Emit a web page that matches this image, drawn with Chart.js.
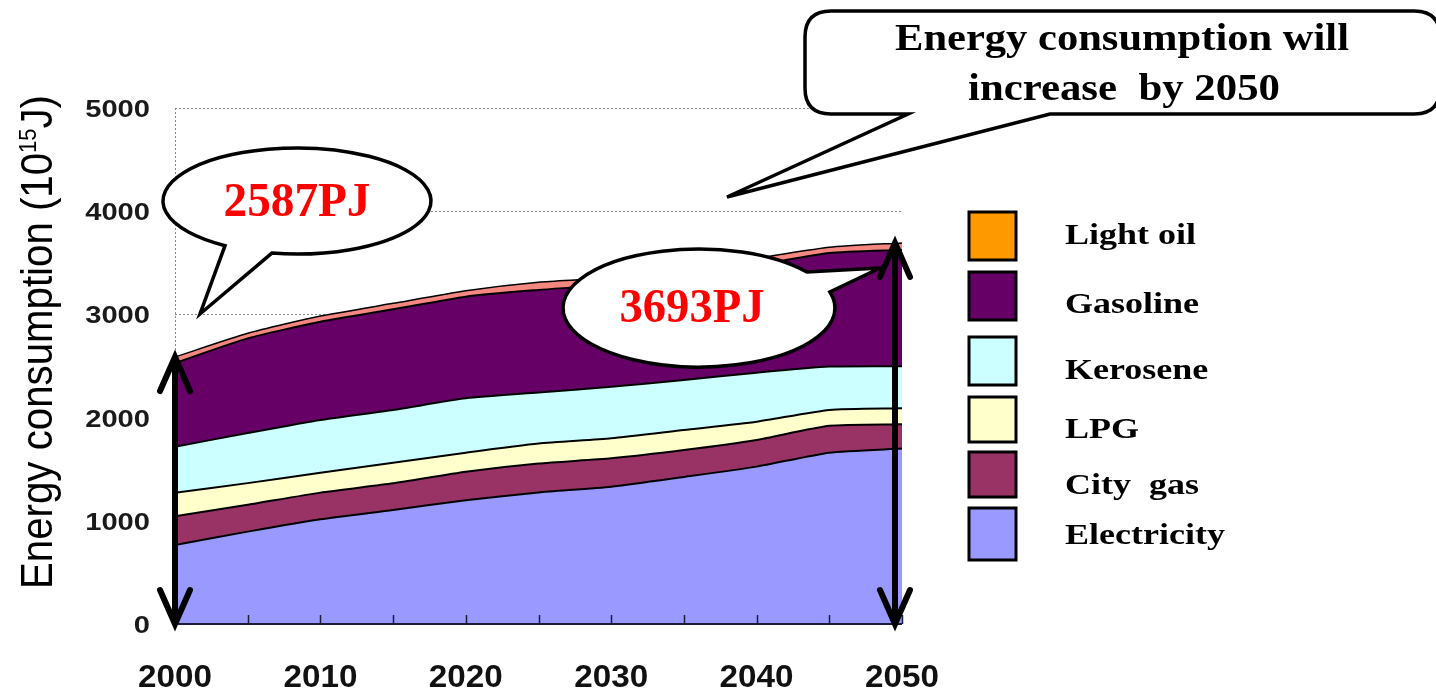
<!DOCTYPE html>
<html>
<head>
<meta charset="utf-8">
<title>Energy consumption by source, 2000-2050</title>
<script src="https://cdn.jsdelivr.net/npm/chart.js@4/dist/chart.umd.min.js"></script>
<style>
  html, body { margin: 0; padding: 0; background: #ffffff; overflow: hidden; }
  #wrap { position: relative; width: 1436px; height: 693px; }
</style>
</head>
<body>
<div id="wrap"><canvas id="c" width="1436" height="693"></canvas></div>
<script>
// ---- data (10^15 J per year, stacked from the bottom) ----
const years = ['2000','2005','2010','2015','2020','2025','2030','2035','2040','2045','2050'];
const yearTickLabels = ['2000','2010','2020','2030','2040','2050'];
const valueTicks = [0, 1000, 2000, 3000, 4000, 5000];

const electricity = [765, 895, 1015, 1105, 1200, 1275, 1330, 1425, 1525, 1660, 1700];
const cityGas     = [280, 260, 258, 258, 275, 280, 275, 260, 258, 260, 235];
const lpg         = [227, 210, 193, 200, 185, 193, 194, 195, 177, 154, 155];
const kerosene    = [446, 485, 511, 511, 527, 495, 500, 484, 475, 420, 408];
const gasoline    = [811, 918, 952, 975, 985, 994, 991, 1031, 1045, 1101, 1127];
const lightOil    = [58, 49, 55, 58, 58, 75, 65, 65, 65, 55, 68];

const seriesNames  = ['Electricity', 'City  gas', 'LPG', 'Kerosene', 'Gasoline', 'Light oil'];
const seriesFill   = ['#9999ff', '#993366', '#ffffcc', '#ccffff', '#660066', '#f4877f'];
const legendFill   = ['#9999ff', '#993366', '#ffffcc', '#ccffff', '#660066', '#ff9900'];
const seriesValues = [electricity, cityGas, lpg, kerosene, gasoline, lightOil];

const totalLabels = ['2587PJ', '3693PJ'];
const headline = ['Energy consumption will', 'increase  by 2050'];

// totals at a given year index
const totalAt = i => seriesValues.reduce((s, arr) => s + arr[i], 0);

// ---- helpers ----
function fitText(ctx, str, x, y, font, width, align, color) {
  ctx.save();
  ctx.font = font;
  const w = ctx.measureText(str).width;
  const s = width ? width / w : 1;
  ctx.translate(x, y);
  ctx.scale(s, 1);
  ctx.textAlign = align || 'center';
  ctx.textBaseline = 'alphabetic';
  ctx.fillStyle = color || '#000';
  ctx.fillText(str, 0, 0);
  ctx.restore();
}

function stretchText(ctx, str, x, y, font, sx, align, color) {
  ctx.save();
  ctx.font = font;
  ctx.translate(x, y);
  ctx.scale(sx, 1);
  ctx.textAlign = align || 'left';
  ctx.textBaseline = 'alphabetic';
  ctx.fillStyle = color || '#000';
  ctx.fillText(str, 0, 0);
  ctx.restore();
}

const rad = d => d * Math.PI / 180;

// speech bubble: ellipse with a pointed tail between two parametric angles
function ellipseBubble(ctx, cx, cy, rx, ry, a1, a2, tip) {
  ctx.save();
  ctx.beginPath();
  ctx.ellipse(cx, cy, rx, ry, 0, rad(a2), rad(a1 + 360));
  ctx.lineTo(tip[0], tip[1]);
  ctx.closePath();
  ctx.fillStyle = '#fff';
  ctx.fill();
  ctx.lineWidth = 3.5;
  ctx.strokeStyle = '#000';
  ctx.lineJoin = 'miter';
  ctx.stroke();
  ctx.restore();
}

// rounded box with a pointed tail leaving its bottom edge
function boxBubble(ctx, L, T, R, B, r, t1, t2, tip) {
  ctx.save();
  ctx.beginPath();
  ctx.moveTo(L + r, T);
  ctx.lineTo(R - r, T);
  ctx.quadraticCurveTo(R, T, R, T + r);
  ctx.lineTo(R, B - r);
  ctx.quadraticCurveTo(R, B, R - r, B);
  ctx.lineTo(t2, B);
  ctx.lineTo(tip[0], tip[1]);
  ctx.lineTo(t1, B);
  ctx.lineTo(L + r, B);
  ctx.quadraticCurveTo(L, B, L, B - r);
  ctx.lineTo(L, T + r);
  ctx.quadraticCurveTo(L, T, L + r, T);
  ctx.closePath();
  ctx.fillStyle = '#fff';
  ctx.fill();
  ctx.lineWidth = 3.5;
  ctx.strokeStyle = '#000';
  ctx.stroke();
  ctx.restore();
}

function doubleArrow(ctx, px, yTop, yBot) {
  ctx.save();
  ctx.strokeStyle = '#000';
  ctx.lineWidth = 6;
  ctx.lineCap = 'butt';
  ctx.beginPath();
  ctx.moveTo(px, yTop + 3);
  ctx.lineTo(px, yBot - 3);
  ctx.stroke();
  ctx.lineCap = 'round';
  ctx.lineJoin = 'miter';
  ctx.beginPath();
  ctx.moveTo(px - 15, yTop + 34);
  ctx.lineTo(px, yTop);
  ctx.lineTo(px + 15, yTop + 34);
  ctx.moveTo(px - 15, yBot - 34);
  ctx.lineTo(px, yBot);
  ctx.lineTo(px + 15, yBot - 34);
  ctx.stroke();
  ctx.restore();
}

// ---- decorations drawn around the chart ----
const decor = {
  id: 'decor',
  beforeDatasetsDraw(chart) {
    const { ctx, chartArea: a } = chart;
    ctx.save();
    ctx.strokeStyle = '#8a8a8a';
    ctx.lineWidth = 1;
    ctx.setLineDash([2, 2]);
    ctx.beginPath();
    ctx.moveTo(a.left + 0.5, a.top);
    ctx.lineTo(a.left + 0.5, a.bottom);
    ctx.stroke();
    ctx.restore();
  },
  afterDatasetsDraw(chart) {
    const { ctx, chartArea: a, scales: { x, y } } = chart;
    const y0 = y.getPixelForValue(0);
    ctx.save();
    ctx.strokeStyle = '#1c1c3c';
    ctx.lineWidth = 2;
    ctx.beginPath();
    ctx.moveTo(a.left, y0);
    ctx.lineTo(a.right, y0);
    ctx.stroke();
    ctx.lineWidth = 1.5;
    ctx.beginPath();
    years.forEach((_, i) => {
      const px = Math.round(x.getPixelForValue(i)) + 0.5;
      ctx.moveTo(px, y0);
      ctx.lineTo(px, y0 - 9);
    });
    ctx.stroke();
    ctx.restore();
  },
  afterDraw(chart) {
    const { ctx, scales: { x, y } } = chart;
    const last = years.length - 1;

    // value axis labels
    valueTicks.forEach(v => {
      fitText(ctx, String(v), 150, y.getPixelForValue(v) + 9,
        'bold 24px "Liberation Sans", Arial, sans-serif',
        String(v).length * 16.2, 'right', '#1a1a1a');
    });
    // year labels
    yearTickLabels.forEach(lbl => {
      const i = years.indexOf(lbl);
      fitText(ctx, lbl, x.getPixelForValue(i), 687,
        'bold 32px "Liberation Sans", Arial, sans-serif', 74, 'center', '#111');
    });

    // value axis title with superscript exponent
    ctx.save();
    const mainFont = '44px "Liberation Sans", Arial, sans-serif';
    const supFont = '24px "Liberation Sans", Arial, sans-serif';
    const p1 = 'Energy consumption (10', p2 = '15', p3 = 'J)';
    ctx.font = mainFont; const w1 = ctx.measureText(p1).width, w3 = ctx.measureText(p3).width;
    ctx.font = supFont; const w2 = ctx.measureText(p2).width;
    const s = 494 / (w1 + w2 + w3);
    ctx.translate(52, 589);
    ctx.rotate(-Math.PI / 2);
    ctx.scale(s, 1);
    ctx.fillStyle = '#000';
    ctx.textAlign = 'left';
    ctx.textBaseline = 'alphabetic';
    ctx.font = mainFont; ctx.fillText(p1, 0, 0);
    ctx.font = supFont; ctx.fillText(p2, w1, -16);
    ctx.font = mainFont; ctx.fillText(p3, w1 + w2, 0);
    ctx.restore();

    // headline bubble
    boxBubble(ctx, 805, 11, 1440, 114, 26, 908, 1050, [727, 197]);
    fitText(ctx, headline[0], 1122, 50, 'bold 37px "Liberation Serif", "Times New Roman", serif', 454, 'center', '#000');
    fitText(ctx, headline[1], 1124, 100, 'bold 37px "Liberation Serif", "Times New Roman", serif', 312, 'center', '#000');

    // total bubbles
    ellipseBubble(ctx, 297, 201, 134, 53, 100.8, 122.5, [200, 314]);
    fitText(ctx, totalLabels[0], 297, 216, 'bold 48px "Liberation Serif", "Times New Roman", serif', 147, 'center', '#ff0000');
    ellipseBubble(ctx, 699, 308, 136, 59, -37.5, -15.7, [880, 268]);
    fitText(ctx, totalLabels[1], 692, 322, 'bold 48px "Liberation Serif", "Times New Roman", serif', 145, 'center', '#ff0000');

    // total arrows at the first and last year
    doubleArrow(ctx, x.getPixelForValue(0), y.getPixelForValue(totalAt(0)), y.getPixelForValue(0));
    doubleArrow(ctx, x.getPixelForValue(last) - 7, y.getPixelForValue(totalAt(last)), y.getPixelForValue(0));

    // legend, top entry first
    const boxTops = [212, 272, 337, 397, 452, 508];
    const boxBots = [260, 320, 385, 442, 497, 560];
    const textBase = [244, 313, 379, 438, 494, 544];
    for (let k = 0; k < 6; k++) {
      const idx = 5 - k;
      ctx.save();
      ctx.fillStyle = legendFill[idx];
      ctx.strokeStyle = '#000';
      ctx.lineWidth = 3;
      ctx.fillRect(969, boxTops[k], 47, boxBots[k] - boxTops[k]);
      ctx.strokeRect(969, boxTops[k], 47, boxBots[k] - boxTops[k]);
      ctx.restore();
      stretchText(ctx, seriesNames[idx], 1065, textBase[k],
        'bold 30px "Liberation Serif", "Times New Roman", serif', 1.2, 'left', '#000');
    }
  }
};

const datasets = seriesValues.map((vals, i) => ({
  label: seriesNames[i],
  data: vals,
  backgroundColor: seriesFill[i],
  borderColor: '#000',
  borderWidth: i === 5 ? 1.5 : 2,
  fill: i === 0 ? 'origin' : '-1',
  pointRadius: 0,
  tension: 0.2
}));

new Chart(document.getElementById('c').getContext('2d'), {
  type: 'line',
  data: { labels: years, datasets },
  options: {
    responsive: false,
    animation: false,
    layout: { padding: { left: 175, right: 534, top: 108, bottom: 69 } },
    plugins: { legend: { display: false }, tooltip: { enabled: false } },
    scales: {
      x: {
        offset: false,
        ticks: { display: false },
        grid: { display: false },
        border: { display: false },
        afterFit(scale) { scale.height = 0; }
      },
      y: {
        stacked: true,
        min: 0,
        max: 5000,
        ticks: { display: false, stepSize: 1000 },
        grid: { color: '#8a8a8a', lineWidth: 1, drawTicks: false },
        border: { display: false, dash: [2, 2] },
        afterFit(scale) { scale.width = 0; }
      }
    }
  },
  plugins: [decor]
});
</script>
</body>
</html>
